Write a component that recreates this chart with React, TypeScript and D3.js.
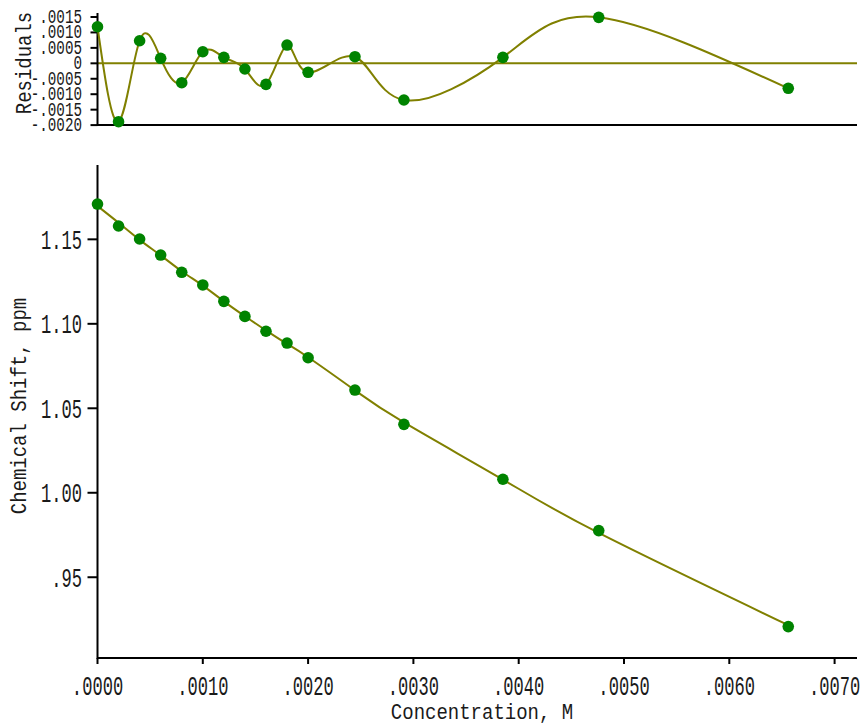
import React from "react";
import * as d3 from "d3";

// Concentration (M)
const concentration = [0, 0.0002, 0.0004, 0.0006, 0.0008, 0.001, 0.0012, 0.0014, 0.0016, 0.0018, 0.002, 0.002445, 0.00291, 0.00385, 0.00476, 0.00656];
// Observed chemical shift (ppm)
const observed = [1.1709, 1.1579, 1.1502, 1.1407, 1.1305, 1.123, 1.1133, 1.1044, 1.0956, 1.0886, 1.0799, 1.0608, 1.0405, 1.008, 0.9776, 0.9208];
// Fitted chemical shift (ppm)
const fitted = [1.1697, 1.1598, 1.1497, 1.1405, 1.1311, 1.1226, 1.1133, 1.1045, 1.0961, 1.0881, 1.0802, 1.0606, 1.0416, 1.0078, 0.9762, 0.9216];
// Residuals
const residuals = [0.001184, -0.00189, 0.000731, 0.000162, -0.000628, 0.000375, 0.000194, -0.000184, -0.00068, 0.000592, -0.000291, 0.000214, -0.001188, 0.000194, 0.001489, -0.000809];

const xTicks = [0, 0.001, 0.002, 0.003, 0.004, 0.005, 0.006, 0.007];
const xTickLabels = [".0000", ".0010", ".0020", ".0030", ".0040", ".0050", ".0060", ".0070"];
const yTicks = [0.95, 1.0, 1.05, 1.1, 1.15];
const yTickLabels = [".95", "1.00", "1.05", "1.10", "1.15"];
const rTicks = [0.0015, 0.001, 0.0005, 0, -0.0005, -0.001, -0.0015, -0.002];
const rTickLabels = [".0015", ".0010", ".0005", "0", "-.0005", "-.0010", "-.0015", "-.0020"];

const FONT = "'Liberation Mono', 'DejaVu Sans Mono', monospace";
const OLIVE = "#808000";
const GREEN = "#008300";

function T(props: { x: number; y: number; text: string; fs: number; sx?: number; sy?: number; rot?: number; anchor?: string }) {
  const { x, y, text, fs, sx = 1, sy = 1, rot = 0, anchor = "start" } = props;
  return (
    <text
      transform={`translate(${x},${y}) rotate(${rot}) scale(${sx},${sy})`}
      fontFamily={FONT}
      fontSize={fs}
      textAnchor={anchor}
      fill="#1a1a1a"
    >
      {text}
    </text>
  );
}

export default function App() {
  const W = 866, H = 727;
  const left = 97.5, right = 857;
  const x = d3.scaleLinear().domain([0, 0.0072]).range([left, left + 7.2 * 105.3]);
  const y = d3.scaleLinear().domain([0.9022, 1.194]).range([658, 165]);
  const r = d3.scaleLinear().domain([-0.002, 0.0016]).range([125.1, 13.9]);

  const mainLine = d3
    .line<number>()
    .x((_, i) => x(concentration[i]))
    .y((d) => y(d))
    .curve(d3.curveNatural)(fitted) as string;

  const resLine = d3
    .line<number>()
    .x((_, i) => x(concentration[i]))
    .y((d) => r(d))
    .curve(d3.curveNatural)(residuals) as string;

  return (
    <svg width={W} height={H} style={{ position: "absolute", left: 0, top: 0, background: "#fff" }}>
      {/* Residual panel */}
      <line x1={left} x2={right} y1={r(0)} y2={r(0)} stroke={OLIVE} strokeWidth={2} />
      <line x1={left} x2={right} y1={125} y2={125} stroke="#000" strokeWidth={2} />
      <line x1={left} x2={left} y1={13} y2={126} stroke="#000" strokeWidth={2} />
      {rTicks.map((t, i) => (
        <g key={"rt" + i}>
          <line x1={left - 7} x2={left} y1={r(t)} y2={r(t)} stroke="#000" strokeWidth={2} />
          <T x={82} y={r(t) + 6} text={rTickLabels[i]} fs={15} sx={0.95} sy={1.3} anchor="end" />
        </g>
      ))}
      <T x={31} y={63} text="Residuals" fs={19} sy={1.2} rot={-90} anchor="middle" />
      <path d={resLine} fill="none" stroke={OLIVE} strokeWidth={2} />
      {residuals.map((v, i) => (
        <circle key={"rp" + i} cx={x(concentration[i])} cy={r(v)} r={5.8} fill={GREEN} />
      ))}

      {/* Main panel */}
      <line x1={left} x2={right} y1={658} y2={658} stroke="#000" strokeWidth={2} />
      <line x1={left} x2={left} y1={165} y2={659} stroke="#000" strokeWidth={2} />
      {yTicks.map((t, i) => (
        <g key={"yt" + i}>
          <line x1={left - 10} x2={left} y1={y(t)} y2={y(t)} stroke="#000" strokeWidth={2} />
          <T x={82} y={y(t) + 9.5} text={yTickLabels[i]} fs={19} sx={0.9} sy={1.45} anchor="end" />
        </g>
      ))}
      {xTicks.map((t, i) => (
        <g key={"xt" + i}>
          <line x1={x(t)} x2={x(t)} y1={658} y2={664} stroke="#000" strokeWidth={2} />
          <T x={x(t)} y={695} text={xTickLabels[i]} fs={19} sx={0.9} sy={1.45} anchor="middle" />
        </g>
      ))}
      <T x={482} y={719} text="Concentration, M" fs={19} sy={1.2} anchor="middle" />
      <T x={26} y={406} text="Chemical Shift, ppm" fs={19} sy={1.2} rot={-90} anchor="middle" />
      <path d={mainLine} fill="none" stroke={OLIVE} strokeWidth={2} />
      {observed.map((v, i) => (
        <circle key={"mp" + i} cx={x(concentration[i])} cy={y(v)} r={5.8} fill={GREEN} />
      ))}
    </svg>
  );
}
